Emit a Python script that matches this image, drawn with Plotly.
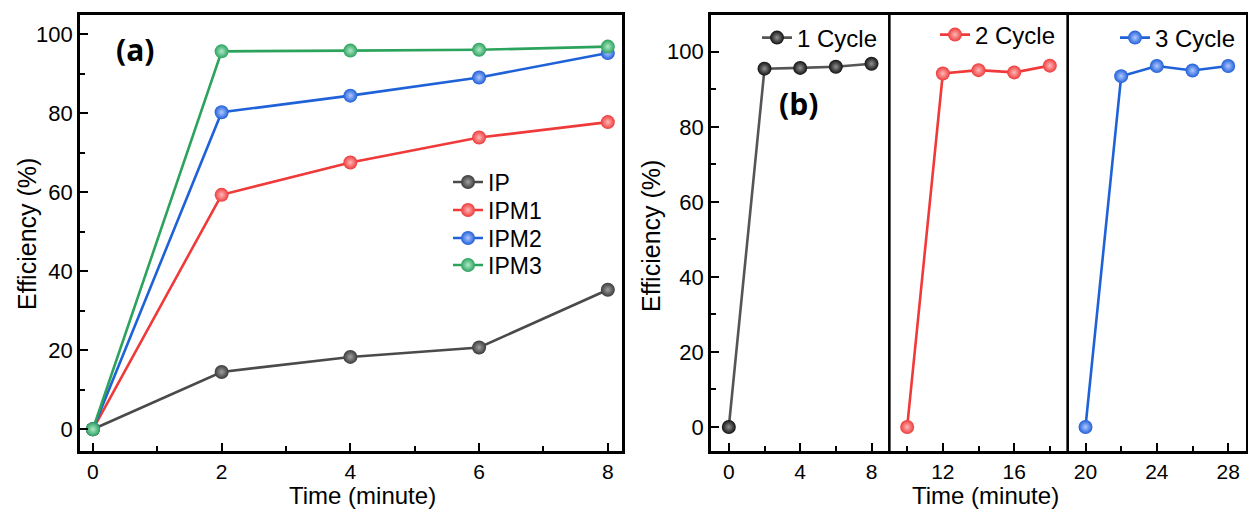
import plotly.graph_objects as go

# ---------------- data ----------------
time_a = [0, 2, 4, 6, 8]
ip = [0, 14.5, 18.3, 20.7, 35.3]
ipm1 = [0, 59.3, 67.5, 73.8, 77.7]
ipm2 = [0, 80.2, 84.4, 89.0, 95.2]
ipm3 = [0, 95.6, 95.8, 96.0, 96.8]

time_c1 = [0, 2, 4, 6, 8]
time_c2 = [10, 12, 14, 16, 18]
time_c3 = [20, 22, 24, 26, 28]
cycle1 = [0, 95.5, 95.7, 96.0, 96.8]
cycle2 = [0, 94.2, 95.1, 94.5, 96.3]
cycle3 = [0, 93.5, 96.2, 95.0, 96.2]

ticks_a = [0, 2, 4, 6, 8]
ticks_b = [0, 4, 8, 12, 16, 20, 24, 28]
ticks_y = [0, 20, 40, 60, 80, 100]

FONT = "Liberation Sans, Arial, sans-serif"

fig = go.Figure()


def add(x, y, name, line_color, marker_color, center, xa, ya, legend):
    fig.add_trace(go.Scatter(
        x=x, y=y, name=name, mode="lines+markers",
        line=dict(color=line_color, width=2.6),
        marker=dict(size=14, color=marker_color,
                    gradient=dict(type="radial", color=center),
                    line=dict(width=0)),
        xaxis=xa, yaxis=ya, legend=legend,
    ))


add(time_a, ip, "IP", "#4a4a4a", "#3a3a3a", "#a0a0a0", "x", "y", "legend")
add(time_a, ipm1, "IPM1", "#f03a3a", "#ee3a3a", "#ffb8b8", "x", "y", "legend2")
add(time_a, ipm2, "IPM2", "#1f62d8", "#1f5fd8", "#b0c8ff", "x", "y", "legend3")
add(time_a, ipm3, "IPM3", "#2ba35d", "#2ba35d", "#b0e8c8", "x", "y", "legend4")

add(time_c1, cycle1, "1 Cycle", "#555555", "#111111", "#909090", "x2", "y2", "legend5")
add(time_c2, cycle2, "2 Cycle", "#f03a3a", "#ee3a3a", "#ffb8b8", "x2", "y2", "legend6")
add(time_c3, cycle3, "3 Cycle", "#1f62d8", "#1f5fd8", "#b0c8ff", "x2", "y2", "legend7")

axis_common = dict(
    showline=True, linecolor="black", linewidth=2.6, mirror=True,
    ticks="inside", ticklen=8, tickwidth=2.2, tickcolor="black",
    showgrid=False, zeroline=False,
    tickfont=dict(family=FONT, size=22, color="black"),
)
xtickfont = dict(family=FONT, size=21, color="black")
minor_common = dict(ticks="inside", ticklen=5, tickwidth=2, tickcolor="black")

y0 = 1 - 451 / 510
y1 = 1 - 15 / 510


def leg(xpx, ypx, size):
    return dict(x=xpx / 1248, y=1 - ypx / 510, xanchor="left", yanchor="middle",
                bgcolor="rgba(0,0,0,0)", font=dict(family=FONT, size=size, color="black"))


fig.update_layout(
    width=1248, height=510,
    margin=dict(l=0, r=0, t=0, b=0),
    paper_bgcolor="white", plot_bgcolor="white",
    showlegend=True,
    xaxis=dict(axis_common, domain=[80 / 1248, 622 / 1248], anchor="y",
               range=[-0.2, 8.22], tickvals=ticks_a, tickfont=xtickfont,
               minor=dict(minor_common, dtick=1, tick0=0)),
    yaxis=dict(axis_common, domain=[y0, y1], anchor="x",
               range=[-5.5, 104.8], tickvals=ticks_y,
               minor=dict(minor_common, dtick=10, tick0=0)),
    xaxis2=dict(axis_common, domain=[711 / 1248, 1246 / 1248], anchor="y2",
                range=[-1, 29], tickvals=ticks_b, tickfont=xtickfont,
                minor=dict(minor_common, dtick=2, tick0=0)),
    yaxis2=dict(axis_common, domain=[y0, y1], anchor="x2",
                range=[-6.4, 109.8], tickvals=ticks_y,
                minor=dict(minor_common, dtick=10, tick0=0)),
    legend=leg(448, 182, 23),
    legend2=leg(448, 210, 23),
    legend3=leg(448, 238, 23),
    legend4=leg(448, 265, 23),
    legend5=leg(757, 38, 24),
    legend6=leg(935, 35, 24),
    legend7=leg(1115, 38, 24),
)

# separators between cycles
for xv in [9, 19]:
    fig.add_shape(type="line", xref="x2", yref="y2 domain", x0=xv, x1=xv, y0=0, y1=1,
                  line=dict(color="black", width=2.6))

annots = [
    dict(text="Efficiency (%)", x=27 / 1248, y=1 - 234 / 510, textangle=-90,
         xanchor="center", yanchor="middle", size=25),
    dict(text="Efficiency (%)", x=651 / 1248, y=1 - 236 / 510, textangle=-90,
         xanchor="center", yanchor="middle", size=25),
    dict(text="Time (minute)", x=362 / 1248, y=0, xanchor="center", yanchor="bottom", size=24),
    dict(text="Time (minute)", x=985 / 1248, y=0, xanchor="center", yanchor="bottom", size=24),
]
for a in annots:
    size = a.pop("size")
    fig.add_annotation(xref="paper", yref="paper", showarrow=False, borderpad=0,
                       font=dict(family=FONT, size=size, color="black"), **a)

fig.add_annotation(xref="paper", yref="paper", showarrow=False, text="<b>(a)</b>",
                   x=135 / 1248, y=1 - 50 / 510, xanchor="center", yanchor="middle",
                   font=dict(family="Open Sans, sans-serif", size=30, color="black"))
fig.add_annotation(xref="paper", yref="paper", showarrow=False, text="<b>(b)</b>",
                   x=799 / 1248, y=1 - 104 / 510, xanchor="center", yanchor="middle",
                   font=dict(family="Open Sans, sans-serif", size=30, color="black"))

fig.write_html("out.html")
